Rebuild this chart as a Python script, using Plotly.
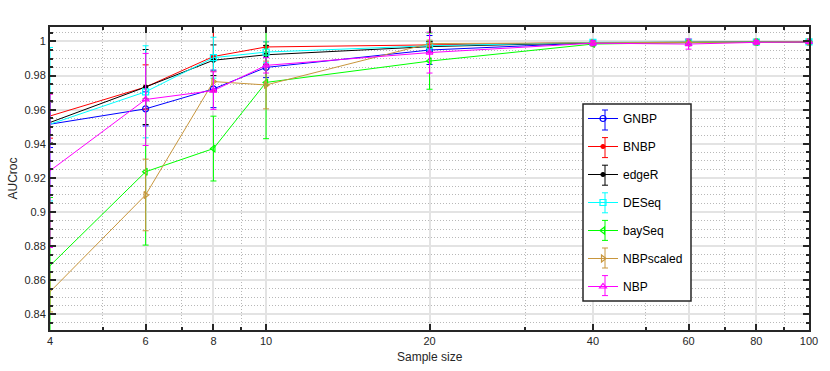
import plotly.graph_objects as go

# sample sizes (x) and AUCroc means / error bar half-widths per method
sizes = [4, 6, 8, 10, 20, 40, 60, 80, 100]

gnbp = [0.9515, 0.9605, 0.9722, 0.9848, 0.9950, 0.9992, 0.9994, 0.9996, 0.9997]
gnbp_err = [0.0137, 0.010, 0.011, 0.006, 0.0085, 0.001, 0.001, 0.0005, 0.0005]

bnbp = [0.9563, 0.9733, 0.9912, 0.9968, 0.9980, 0.9994, 0.9996, 0.9997, 0.9998]
bnbp_err = [0.013, 0.013, 0.020, 0.003, 0.002, 0.0005, 0.0005, 0.0005, 0.0005]

edger = [0.9525, 0.9733, 0.9890, 0.9922, 0.9970, 0.9993, 0.9995, 0.9997, 0.9998]
edger_err = [0.012, 0.022, 0.009, 0.0055, 0.003, 0.0005, 0.0005, 0.0005, 0.0005]

deseq = [0.9515, 0.9705, 0.9905, 0.9938, 0.9975, 0.9995, 0.9996, 0.9997, 0.9998]
deseq_err = [0.045, 0.027, 0.012, 0.006, 0.003, 0.0005, 0.0005, 0.0005, 0.0005]

bayseq = [0.8685, 0.9236, 0.9372, 0.9760, 0.9885, 0.9985, 0.9993, 0.9996, 0.9997]
bayseq_err = [0.040, 0.043, 0.019, 0.033, 0.0165, 0.001, 0.0008, 0.0005, 0.0005]

nbpscaled = [0.8532, 0.9100, 0.9765, 0.9745, 0.9988, 0.9993, 0.9996, 0.9997, 0.9998]
nbpscaled_err = [0.0118, 0.021, 0.006, 0.014, 0.002, 0.0005, 0.0005, 0.0005, 0.0005]

nbp = [0.9242, 0.9660, 0.9712, 0.9860, 0.9935, 0.9990, 0.9985, 0.9995, 0.9997]
nbp_err = [0.045, 0.027, 0.011, 0.0045, 0.012, 0.0015, 0.003, 0.001, 0.0005]

names = ["GNBP", "BNBP", "edgeR", "DESeq", "baySeq", "NBPscaled", "NBP"]
means = [gnbp, bnbp, edger, deseq, bayseq, nbpscaled, nbp]
errs = [gnbp_err, bnbp_err, edger_err, deseq_err, bayseq_err, nbpscaled_err, nbp_err]
colors = ["#0000ff", "#ff0000", "#000000", "#00ffff", "#00ff00", "#c8963c", "#ff00ff"]
symbols = ["circle-open", "circle", "circle", "square-open",
           "triangle-left-open", "triangle-right-open", "triangle-up-open"]
msizes = [6, 4, 4, 6, 6, 6, 6]

ytick_vals = [0.84, 0.86, 0.88, 0.9, 0.92, 0.94, 0.96, 0.98, 1.0]
ytick_text = ["0.84", "0.86", "0.88", "0.9", "0.92", "0.94", "0.96", "0.98", "1"]
xtick_vals = [4, 6, 8, 10, 20, 40, 60, 80, 100]
xminor_vals = [5, 7, 9, 30, 50, 70, 90]

fig = go.Figure()
for i in range(len(names)):
    fig.add_trace(go.Scatter(
        x=sizes, y=means[i], name=names[i], mode="lines+markers",
        legendgroup=names[i],
        line=dict(color=colors[i], width=1),
        marker=dict(symbol=symbols[i], size=msizes[i], color=colors[i],
                    line=dict(color=colors[i], width=1.2)),
        error_y=dict(type="data", array=errs[i], color=colors[i],
                     thickness=1, width=3),
        cliponaxis=False))

axcol = "#262626"
font = "Liberation Sans, Arial, sans-serif"
dots = "1px,2px"

W, H = 830, 371
ml, mr, mt, mb = 50, 21, 27, 41
pw, ph = W - ml - mr, H - mt - mb

def px(v):
    return (v - ml) / pw

def py(v):
    return (H - mb - v) / ph

# legend box drawn as a shape so the matlab-style error bar glyphs can sit on it
shapes = [dict(type="rect", xref="paper", yref="paper",
               x0=px(583), x1=px(691), y0=py(104), y1=py(301),
               fillcolor="white", line=dict(color=axcol, width=1.5), layer="above")]
for i in range(len(names)):
    cy = 120 + i * 27.6
    cx = 605
    shapes.append(dict(type="line", xref="paper", yref="paper",
                       x0=px(cx), x1=px(cx), y0=py(cy - 10), y1=py(cy + 10),
                       line=dict(color=colors[i], width=1), layer="above"))
    for e in (-10, 10):
        shapes.append(dict(type="line", xref="paper", yref="paper",
                           x0=px(cx - 3), x1=px(cx + 3), y0=py(cy + e), y1=py(cy + e),
                           line=dict(color=colors[i], width=1), layer="above"))

fig.update_layout(
    width=W, height=H,
    margin=dict(l=ml, r=mr, t=mt, b=mb),
    paper_bgcolor="white", plot_bgcolor="white",
    font=dict(family=font, size=11, color=axcol),
    showlegend=True,
    legend=dict(x=px(583), y=py(104), xanchor="left", yanchor="top",
                bgcolor="rgba(0,0,0,0)", borderwidth=0,
                font=dict(size=12, color="black"), tracegroupgap=9,
                itemwidth=30),
    annotations=[
        dict(text="AUCroc", xref="paper", yref="paper", x=px(12), y=0.5,
             textangle=-90, showarrow=False, font=dict(size=12),
             xanchor="center", yanchor="middle"),
        dict(text="Sample size", xref="paper", yref="paper", x=0.5, y=py(357),
             showarrow=False, font=dict(size=12),
             xanchor="center", yanchor="middle"),
    ],
    shapes=shapes,
)
fig.update_xaxes(
    type="log", range=[0.60206, 2.0], automargin=False,
    tickvals=xtick_vals, ticktext=[str(v) for v in xtick_vals],
    ticks="inside", ticklen=6, tickwidth=1.5, tickcolor=axcol,
    showline=True, linecolor=axcol, linewidth=2, mirror="ticks",
    showgrid=True, gridcolor="#e3e3e3", gridwidth=1.5, zeroline=False,
    minor=dict(tickvals=xminor_vals, ticks="inside", ticklen=3, tickcolor=axcol,
               showgrid=True, gridcolor="#b8b8b8", griddash=dots, gridwidth=1),
)
fig.update_yaxes(
    range=[0.8308, 1.0085], automargin=False,
    tickvals=ytick_vals, ticktext=ytick_text,
    ticks="inside", ticklen=6, tickwidth=1.5, tickcolor=axcol,
    showline=True, linecolor=axcol, linewidth=2, mirror="ticks",
    showgrid=True, gridcolor="#e3e3e3", gridwidth=1.5, zeroline=False,
    minor=dict(dtick=0.005, tick0=0, ticks="inside", ticklen=3, tickcolor=axcol,
               showgrid=True, gridcolor="#b8b8b8", griddash=dots, gridwidth=1),
)

# drop the browser's default 8px body margin so the figure fills the window
fig.write_html("out.html", config={"displayModeBar": False},
               post_script="document.body.style.margin='0';")
